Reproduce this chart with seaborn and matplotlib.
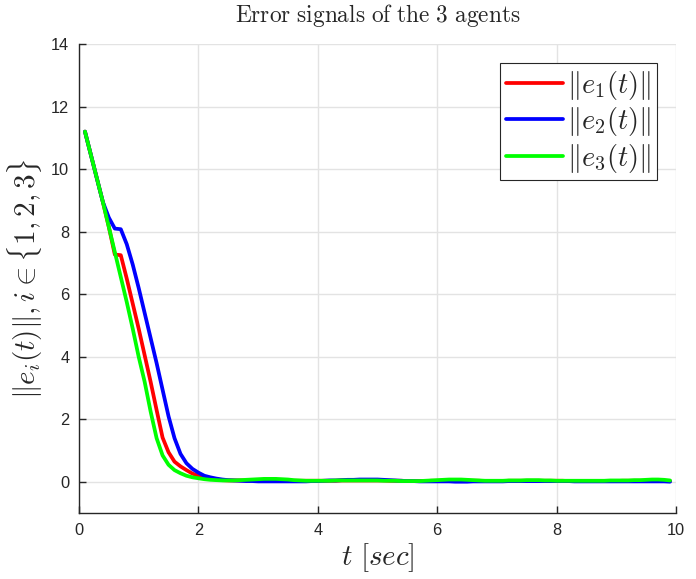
import numpy as np
import pandas as pd
import matplotlib
matplotlib.use("Agg")
import matplotlib.pyplot as plt
import seaborn as sns

# time samples (sec)
t = [round(0.1 * k, 1) for k in range(1, 100)]

e1 = [11.2, 10.45, 9.7, 8.95, 8.15, 7.27, 7.25, 6.5, 5.7, 4.9,
      4.05, 3.2, 2.3, 1.42, 0.95, 0.65, 0.5, 0.38, 0.27, 0.2,
      0.15, 0.11, 0.08, 0.06, 0.05,
      0.05, 0.05, 0.05, 0.05, 0.05, 0.05, 0.05, 0.05, 0.05, 0.04,
      0.04, 0.04, 0.04, 0.04, 0.04, 0.04, 0.04, 0.04, 0.05, 0.05,
      0.05, 0.05, 0.05, 0.05, 0.05, 0.05, 0.04, 0.04, 0.04, 0.03,
      0.03, 0.03, 0.03, 0.04, 0.04, 0.04, 0.04, 0.04, 0.04, 0.04,
      0.04, 0.04, 0.03, 0.03, 0.03, 0.03, 0.04, 0.04, 0.04, 0.04,
      0.04, 0.04, 0.04, 0.04, 0.04, 0.04, 0.03, 0.03, 0.03, 0.03,
      0.03, 0.03, 0.03, 0.03, 0.03, 0.04, 0.04, 0.04, 0.04, 0.04,
      0.05, 0.05, 0.04, 0.03]

e2 = [11.2, 10.45, 9.7, 8.95, 8.45, 8.1, 8.08, 7.6, 6.95, 6.2,
      5.4, 4.6, 3.8, 2.95, 2.1, 1.4, 0.9, 0.6, 0.42, 0.3,
      0.2, 0.15, 0.11, 0.08, 0.06,
      0.05, 0.04, 0.03, 0.03, 0.02, 0.02, 0.02, 0.02, 0.02, 0.02,
      0.02, 0.02, 0.02, 0.03, 0.03, 0.04, 0.05, 0.05, 0.06, 0.07,
      0.07, 0.08, 0.08, 0.08, 0.08, 0.07, 0.06, 0.05, 0.04, 0.03,
      0.03, 0.02, 0.02, 0.02, 0.02, 0.02, 0.02, 0.01, 0.01, 0.01,
      0.02, 0.02, 0.02, 0.02, 0.02, 0.02, 0.03, 0.03, 0.03, 0.03,
      0.03, 0.03, 0.03, 0.03, 0.03, 0.03, 0.03, 0.02, 0.02, 0.02,
      0.02, 0.02, 0.02, 0.02, 0.02, 0.02, 0.02, 0.02, 0.02, 0.02,
      0.02, 0.02, 0.02, 0.01]

e3 = [11.2, 10.45, 9.7, 8.95, 8.15, 7.35, 6.55, 5.75, 4.9, 4.0,
      3.2, 2.25, 1.4, 0.85, 0.55, 0.38, 0.28, 0.2, 0.15, 0.12,
      0.09, 0.07, 0.06, 0.05, 0.05,
      0.05, 0.06, 0.07, 0.08, 0.09, 0.10, 0.10, 0.10, 0.09, 0.08,
      0.06, 0.05, 0.04, 0.04, 0.04, 0.04, 0.04, 0.05, 0.05, 0.05,
      0.05, 0.05, 0.05, 0.05, 0.05, 0.04, 0.04, 0.04, 0.03, 0.03,
      0.03, 0.03, 0.04, 0.05, 0.06, 0.07, 0.08, 0.08, 0.08, 0.07,
      0.06, 0.05, 0.04, 0.04, 0.04, 0.04, 0.05, 0.05, 0.05, 0.06,
      0.06, 0.06, 0.05, 0.05, 0.04, 0.04, 0.04, 0.04, 0.04, 0.04,
      0.04, 0.04, 0.04, 0.05, 0.05, 0.05, 0.05, 0.06, 0.06, 0.07,
      0.08, 0.08, 0.07, 0.05]

labels = [r'$\|e_1(t)\|$', r'$\|e_2(t)\|$', r'$\|e_3(t)\|$']
colors = ['#FF0000', '#0000FF', '#00FF00']

xticks = [0, 2, 4, 6, 8, 10]
yticks = [0, 2, 4, 6, 8, 10, 12, 14]

df = pd.concat([
    pd.DataFrame({'t': t, 'e': e, 'agent': lab})
    for e, lab in zip([e1, e2, e3], labels)
], ignore_index=True)

sns.set_theme(style='whitegrid')
plt.rcParams['font.family'] = ['Liberation Sans', 'DejaVu Sans']
plt.rcParams['mathtext.fontset'] = 'cm'

fig = plt.figure(figsize=(6.96, 5.79), dpi=100)
ax = fig.add_axes([79 / 696, 1 - 513.3 / 579, (676 - 79) / 696, (513.3 - 44) / 579])

sns.lineplot(data=df, x='t', y='e', hue='agent', palette=dict(zip(labels, colors)),
             linewidth=2.7, ax=ax, legend=True)

ax.set_xlim(0, 10)
ax.set_ylim(-1, 14)
ax.set_xticks(xticks)
ax.set_yticks(yticks)
ax.grid(True, color='#e3e3e3', linewidth=1.0)
for s in ['top', 'right']:
    ax.spines[s].set_visible(False)
for s in ['left', 'bottom']:
    ax.spines[s].set_color('#262626')
    ax.spines[s].set_linewidth(1.0)
ax.tick_params(axis='both', direction='in', length=5, width=1, color='#262626',
               labelsize=11.8, labelcolor='#262626', left=True, bottom=True, pad=7)

ax.set_title(r'$\mathrm{Error\ signals\ of\ the\ 3\ agents}$', fontsize=16.8, pad=16)
ax.set_xlabel(r'$t\ [sec]$', fontsize=21, labelpad=2)
ax.set_ylabel(r'$\|e_i(t)\|, i\in\{1,2,3\}$', fontsize=21, labelpad=4)

leg = ax.legend(loc='upper right', fontsize=20.5, frameon=True, fancybox=False,
                edgecolor='#262626', framealpha=1, handlelength=2.0,
                borderpad=0.2, labelspacing=0.12, handletextpad=0.15,
                borderaxespad=0.0)
leg.get_frame().set_linewidth(0.8)
# legend box: right edge at px 657, top at px 63
leg.set_bbox_to_anchor((657 / 696, 1 - 63 / 579), transform=fig.transFigure)

fig.savefig('out.png', dpi=100)
